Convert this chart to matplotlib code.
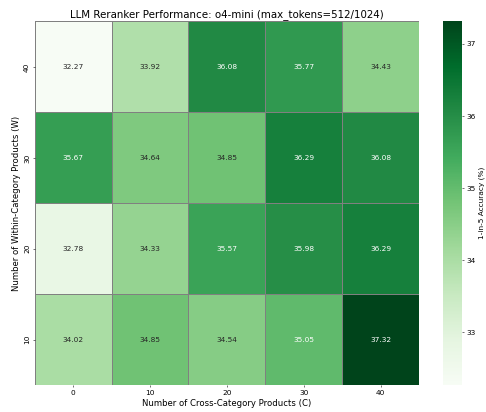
import numpy as np
import pandas as pd
import matplotlib
matplotlib.use("Agg")
import matplotlib.pyplot as plt
import seaborn as sns

cross_counts = [0, 10, 20, 30, 40]
within_counts = [40, 30, 20, 10]

acc_w40 = [32.27, 33.92, 36.08, 35.77, 34.43]
acc_w30 = [35.67, 34.64, 34.85, 36.29, 36.08]
acc_w20 = [32.78, 34.33, 35.57, 35.98, 36.29]
acc_w10 = [34.02, 34.85, 34.54, 35.05, 37.32]

df = pd.DataFrame([acc_w40, acc_w30, acc_w20, acc_w10],
                  index=within_counts, columns=cross_counts)

fig = plt.figure(figsize=(10, 8.48), dpi=48.6)
ax = fig.add_axes([0.0714, 0.0655, 0.7906, 0.8825])
cax = fig.add_axes([0.9115, 0.0655, 0.0385, 0.884])

sns.heatmap(df, annot=True, fmt=".2f", cmap="Greens", linewidths=1,
            linecolor="gray", cbar_ax=cax,
            cbar_kws={"label": "1-in-5 Accuracy (%)"},
            annot_kws={"size": 11}, ax=ax)
ax.set_title("LLM Reranker Performance: o4-mini (max_tokens=512/1024)", fontsize=15.2)
ax.set_xlabel("Number of Cross-Category Products (C)", fontsize=12.6)
ax.set_ylabel("Number of Within-Category Products (W)", fontsize=12.6)
ax.tick_params(labelsize=11)
cax.tick_params(labelsize=11)
cax.yaxis.label.set_size(11)

plt.savefig("out.png", dpi=48.6)
